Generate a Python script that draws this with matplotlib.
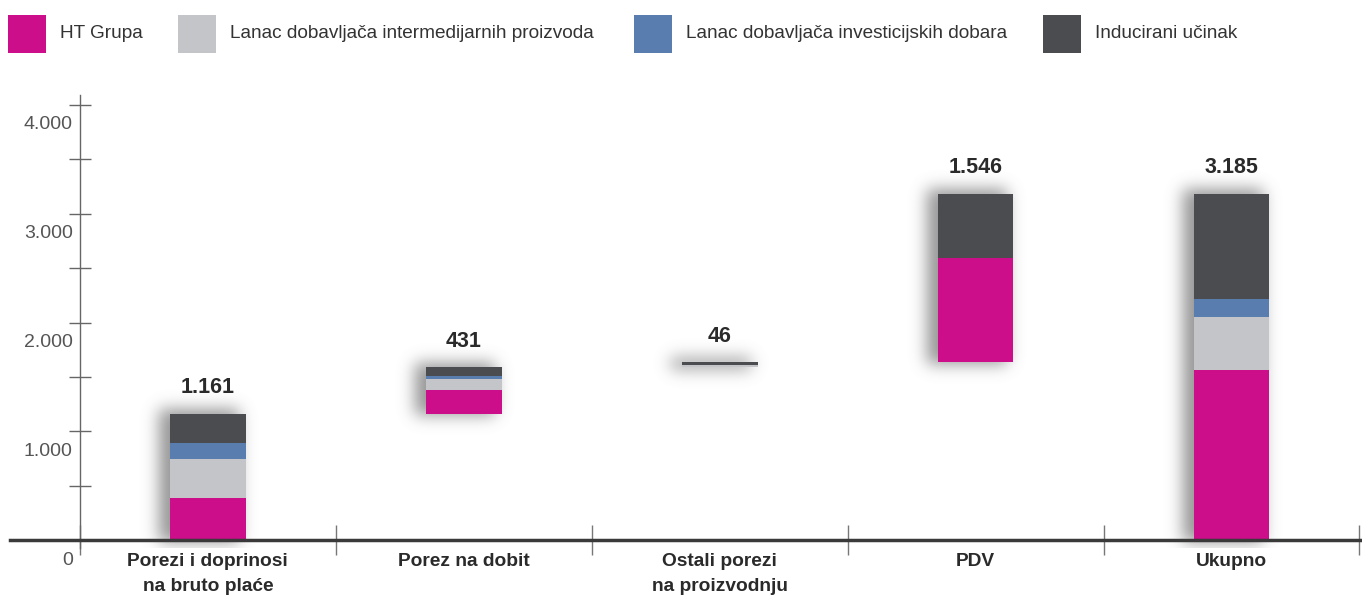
import matplotlib
matplotlib.use("Agg")
import matplotlib.pyplot as plt
from matplotlib.patches import Rectangle
import numpy as np

plt.rcParams['font.family'] = ['Liberation Sans', 'DejaVu Sans']

# data
categories = ["Porezi i doprinosi\nna bruto plaće", "Porez na dobit",
              "Ostali porezi\nna proizvodnju", "PDV", "Ukupno"]
series_names = ["HT Grupa", "Lanac dobavljača intermedijarnih proizvoda",
                "Lanac dobavljača investicijskih dobara", "Inducirani učinak"]
ht_grupa = [392, 223, 0, 951, 1566]
intermedijarni = [357, 102, 22, 0, 481]
investicijski = [147, 20, 0, 0, 167]
inducirani = [265, 86, 24, 595, 971]
totals = [1161, 431, 46, 1546, 3185]
colors = ["#cc0e8a", "#c4c5c9", "#597dae", "#4b4c4f"]

y_ticks = [0, 1000, 2000, 3000, 4000]
y_labels = ["0", "1.000", "2.000", "3.000", "4.000"]

fig = plt.figure(figsize=(13.62, 6.16), dpi=100)
ax = fig.add_axes([10 / 1362, 1 - 548 / 616, 1352 / 1362, 453 / 616])

x = np.arange(len(categories))
width = 0.296
series = [ht_grupa, intermedijarni, investicijski, inducirani]

# waterfall: each bar starts where the previous one ended, the last one from zero
starts = np.concatenate([[0], np.cumsum(totals[:3])]).tolist() + [0]
starts = np.array(starts[:len(categories)], dtype=float)

xlim = (-0.773, 4.51)
ylim = (-70, 4090)
ax.set_xlim(*xlim)
ax.set_ylim(*ylim)

# soft drop shadow: mask of the bars in pixels, blurred
bb = ax.get_window_extent()
W, H = int(round(bb.width)), int(round(bb.height))
mask = np.zeros((H, W))
for i in range(len(categories)):
    (px0, py0) = ax.transData.transform((x[i] - width / 2, starts[i]))
    (px1, py1) = ax.transData.transform((x[i] + width / 2, starts[i] + totals[i]))
    c0 = int(px0 - bb.x0) - 10
    c1 = int(px1 - bb.x0) - 6
    r0 = int(bb.y1 - py1) - 4
    r1 = int(bb.y1 - py0) + 2
    mask[max(r0, 0):max(r1, r0 + 1), max(c0, 0):c1] = 1
sigma = 8.0
k = np.arange(-26, 27)
kern = np.exp(-k ** 2 / (2 * sigma ** 2))
kern /= kern.sum()
blur = np.apply_along_axis(lambda r: np.convolve(r, kern, mode="same"), 1, mask)
blur = np.apply_along_axis(lambda c: np.convolve(c, kern, mode="same"), 0, blur)
img = np.zeros((H, W, 4))
img[..., :3] = 0.45
img[..., 3] = 0.75 * blur
ax.imshow(img, extent=(xlim[0], xlim[1], ylim[0], ylim[1]), origin="upper",
          aspect="auto", zorder=1, interpolation="bilinear")

bottom = starts.copy()
for vals, col, name in zip(series, colors, series_names):
    ax.bar(x, vals, width, bottom=bottom, color=col, zorder=2, label=name)
    bottom = bottom + np.array(vals)

ax.set_xlim(*xlim)
ax.set_ylim(*ylim)

# value labels above the bars
for i in range(len(categories)):
    ax.annotate(f"{totals[i]:,}".replace(",", "."), (x[i], starts[i] + totals[i]),
                xytext=(0, 26), textcoords="offset pixels", ha="center", va="center",
                fontsize=15.5, fontweight="bold", color="#2a2a2a")

# category labels
for i, name in enumerate(categories):
    ax.annotate(name, (x[i], 0), xytext=(0, -13), textcoords="offset pixels",
                ha="center", va="top", fontsize=13.8, fontweight="bold",
                color="#2a2a2a", linespacing=1.55)

# axes styling
for s in ["top", "right"]:
    ax.spines[s].set_visible(False)
ax.spines["bottom"].set_position(("data", 0))
ax.spines["bottom"].set_color("#3a3a3a")
ax.spines["bottom"].set_linewidth(2.5)
ax.spines["bottom"].set_zorder(3)
ax.spines["left"].set_position(("data", -0.5))
ax.spines["left"].set_color("#666666")
ax.spines["left"].set_linewidth(1)

ax.set_xticks(np.arange(-0.5, len(categories), 1.0))
ax.set_xticklabels([])
ax.tick_params(axis="x", direction="inout", length=22, width=1, color="#777777")

ax.set_yticks(y_ticks)
ax.set_yticks(np.arange(500, 4000, 1000), minor=True)
ax.set_yticklabels([])
ax.tick_params(axis="y", which="both", direction="inout", length=16, width=1,
               color="#666666")

for v, lab in zip(y_ticks, y_labels):
    ax.annotate(lab, (-0.5, v), xytext=(-7, -20), textcoords="offset pixels",
                ha="right", va="center", fontsize=14, color="#555555")

# legend along the top
legend_x = [8, 178, 634, 1043]
for lx, col, name in zip(legend_x, colors, series_names):
    fig.add_artist(Rectangle((lx / 1362, 1 - 53 / 616), 38 / 1362, 38 / 616,
                             transform=fig.transFigure, facecolor=col,
                             edgecolor="none"))
    fig.text((lx + 52) / 1362, 1 - 34 / 616, name, ha="left", va="center",
             fontsize=13.7, color="#333333")

fig.savefig("out.png", dpi=100)
